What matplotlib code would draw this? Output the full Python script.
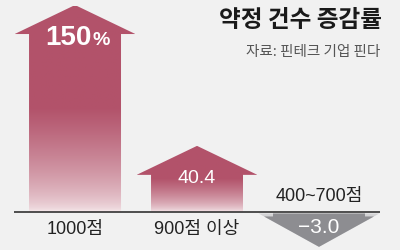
import numpy as np
import matplotlib.pyplot as plt
from matplotlib.patches import Polygon
from matplotlib.colors import to_rgb

# data
categories = ['1000점', '900점 이상', '400~700점']
values = [150, 40.4, -3.0]
value_labels = ['150', '40.4', '\u22123.0']

title = '약정 건수 증감률'
source = '자료: 핀테크 기업 핀다'

BG = '#f1f1f1'
RED_DARK = '#b2526a'
RED_PALE = '#f4e6e9'
GRAY_DARK = '#8d8d91'
GRAY_LIGHT = '#d2d2d4'

KR = ['Noto Sans CJK KR', 'DejaVu Sans']
NUM = ['Liberation Sans', 'Noto Sans CJK KR', 'DejaVu Sans']

# power scale so the small arrow does not vanish
P = 0.87
def fwd(v):
    v = np.asarray(v, dtype=float)
    return np.sign(v) * np.abs(v) ** P

def inv(f):
    f = np.asarray(f, dtype=float)
    return np.sign(f) * np.abs(f) ** (1 / P)

fig = plt.figure(figsize=(4, 2.5), dpi=100)
fig.patch.set_facecolor(BG)
ax = fig.add_axes([0, 0, 1, 1])
ax.set_facecolor(BG)
ax.set_yscale('function', functions=(fwd, inv))
ax.set_xlim(-0.615, 2.664)
ax.set_ylim(-21.4, 154.2)
ax.axis('off')


def shift(x, y, dy_px):
    # move a data point up/down by some pixels, back to data y
    px = ax.transData.transform((x, y))
    return ax.transData.inverted().transform((px[0], px[1] + dy_px))[1]


def gradient(v, n=300):
    rows = np.linspace(0, v, n)
    t = fwd(rows) / fwd(v)
    s = np.clip(t / 0.5, 0, 1) ** 0.65
    dark = np.array(to_rgb(RED_DARK))
    pale = np.array(to_rgb(RED_PALE))
    cols = pale[None, :] + s[:, None] * (dark - pale)[None, :]
    return np.repeat(cols[:, None, :], 2, axis=1)


shaft_w = 0.754
head_w = 0.99
head_h = 29

for i, v in enumerate(values):
    if v > 0:
        base = shift(i, v, -head_h)
        pts = [(i - shaft_w / 2, 0), (i - shaft_w / 2, base), (i - head_w / 2, base),
               (i, v), (i + head_w / 2, base), (i + shaft_w / 2, base),
               (i + shaft_w / 2, 0)]
        patch = Polygon(pts, closed=True, facecolor='none', edgecolor='none')
        ax.add_patch(patch)
        im = ax.imshow(gradient(v), extent=(i - head_w / 2, i + head_w / 2, 0, v),
                       origin='lower', aspect='auto', interpolation='bilinear')
        im.set_clip_path(patch)
    else:
        top = shift(i, 0, -1.5)
        tip = shift(i, v, -28)
        y3 = shift(i, 0, -4.5)
        frac = 3.0 / (ax.transData.transform((i, top))[1] - ax.transData.transform((i, tip))[1])
        ex = head_w / 2 * (1 - frac)
        ax.add_patch(Polygon([(i - head_w / 2, top), (i + head_w / 2, top), (i, tip)],
                             closed=True, facecolor=GRAY_LIGHT, edgecolor='none'))
        ax.add_patch(Polygon([(i - shaft_w / 2, top), (i + shaft_w / 2, top),
                              (i + shaft_w / 2, y3), (i + ex, y3), (i, tip),
                              (i - ex, y3), (i - shaft_w / 2, y3)],
                             closed=True, facecolor=GRAY_DARK, edgecolor='none'))

ax.set_xlim(-0.615, 2.664)
ax.set_ylim(-21.4, 154.2)

# baseline
ax.plot([-0.5, 2.5], [0, 0], color='#333333', lw=1.2, solid_capstyle='butt')

# category labels
for i, (cat, v) in enumerate(zip(categories, values)):
    off = -12.3 if v > 0 else 10.8
    ax.annotate(cat, (i, 0), xytext=(0, off), textcoords='offset points',
                ha='center', va='center', fontsize=13, color='#222222', family=NUM)

# value labels
ax.annotate(value_labels[0], (0, values[0]), xytext=(12, -23.8), textcoords='offset points',
            ha='right', va='center', fontsize=20, weight='bold', color='white', family=NUM)
ax.annotate('%', (0, values[0]), xytext=(12.5, -25.2), textcoords='offset points',
            ha='left', va='center', fontsize=14, weight='bold', color='white', family=NUM)
ax.annotate(value_labels[1], (1, values[1]), xytext=(0, -23.8), textcoords='offset points',
            ha='center', va='center', fontsize=14, color='white', family=NUM)
ax.annotate(value_labels[2], (2, 0), xytext=(0, -11), textcoords='offset points',
            ha='center', va='center', fontsize=15, color='white', family=NUM)

fig.text(0.955, 0.92, title, ha='right', va='center', fontsize=17, weight='bold',
         color='#1a1a1a', family=KR)
fig.text(0.95, 0.792, source, ha='right', va='center', fontsize=10.5,
         color='#555555', family=KR)

fig.savefig('out.png', dpi=100, facecolor=BG)
